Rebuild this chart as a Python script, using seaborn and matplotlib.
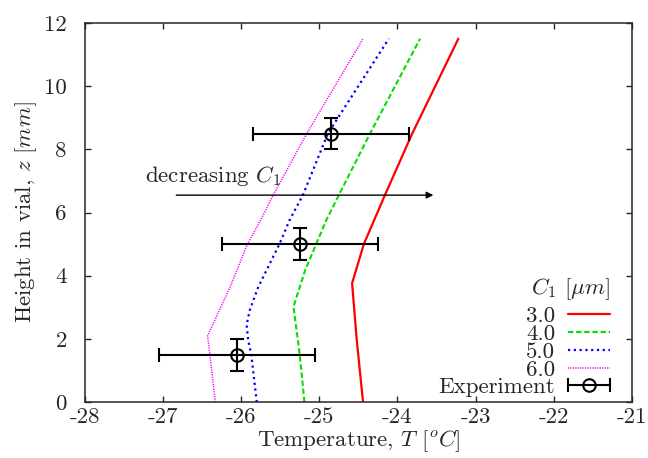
import numpy as np
import pandas as pd
import seaborn as sns
import matplotlib
matplotlib.use("Agg")
import matplotlib.pyplot as plt
from matplotlib.container import ErrorbarContainer
from matplotlib.legend_handler import HandlerErrorbar

# Temperature profiles along the vial height for four values of C1
z_c3 = [0.0, 1.96, 3.76, 5.0, 6.55, 8.5, 11.5]
t_c3 = [-24.44, -24.52, -24.58, -24.43, -24.16, -23.81, -23.22]

z_c4 = [0.0, 1.5, 3.02, 4.18, 5.0, 5.76, 6.55, 8.5, 11.5]
t_c4 = [-25.19, -25.25, -25.33, -25.18, -25.04, -24.91, -24.75, -24.35, -23.71]

z_c5 = [0.0, 1.5, 1.96, 2.44, 2.91, 3.65, 5.0, 5.76, 6.55, 8.5, 11.5]
t_c5 = [-25.80, -25.87, -25.91, -25.93, -25.89, -25.78, -25.51, -25.38, -25.21, -24.89, -24.11]

z_c6 = [0.0, 1.5, 2.1, 3.65, 5.0, 5.76, 6.55, 8.5, 11.5]
t_c6 = [-26.33, -26.40, -26.43, -26.14, -25.92, -25.75, -25.59, -25.16, -24.44]

c1_labels = ["3.0", "4.0", "5.0", "6.0"]

# Measured temperatures with uncertainty
exp_z = [1.5, 5.0, 8.5]
exp_t = [-26.05, -25.25, -24.85]
exp_terr = [1.0, 1.0, 1.0]
exp_zerr = [0.5, 0.5, 0.5]

x_ticks = [-28, -27, -26, -25, -24, -23, -22, -21]
y_ticks = [0, 2, 4, 6, 8, 10, 12]

FS = 16.5

sns.set_style("ticks")
plt.rcParams.update({
    "font.family": "cmr10",
    "mathtext.fontset": "cm",
    "axes.formatter.use_mathtext": True,
    "axes.unicode_minus": False,
    "font.size": FS,
    "axes.linewidth": 1.1,
    "xtick.direction": "in",
    "ytick.direction": "in",
    "xtick.top": True,
    "ytick.right": True,
    "xtick.major.size": 4.0,
    "ytick.major.size": 4.0,
    "xtick.major.width": 1.0,
    "ytick.major.width": 1.0,
    "xtick.major.pad": 4,
    "ytick.major.pad": 13,
})

fig = plt.figure(figsize=(6.48, 4.58), dpi=100)
ax = fig.add_axes([0.131, 0.122, 0.844, 0.828])

series = [
    (t_c3, z_c3, "#ff0000", "-", 1.6),
    (t_c4, z_c4, "#00e000", (0, (2.6, 1.3)), 1.5),
    (t_c5, z_c5, "#0000ff", (0, (1.0, 1.6)), 1.6),
    (t_c6, z_c6, "#ff00ff", (0, (0.8, 0.8)), 1.1),
]
for (t, z, col, ls, lw), lab in zip(series, c1_labels):
    df = pd.DataFrame({"T": t, "z": z})
    sns.lineplot(data=df, x="T", y="z", sort=False, estimator=None,
                 color=col, linestyle=ls, linewidth=lw, label=lab, ax=ax)

# Experimental points: horizontal bars carry the legend entry
ax.errorbar(exp_t, exp_z, xerr=exp_terr, fmt="o", color="black",
            mfc="none", mec="black", ms=9, mew=1.5, elinewidth=1.5,
            capsize=5, capthick=1.5, label="Experiment", zorder=5)
ax.errorbar(exp_t, exp_z, yerr=exp_zerr, fmt="none", ecolor="black",
            elinewidth=1.5, capsize=5, capthick=1.5, zorder=5)

ax.annotate("", xy=(-23.54, 6.55), xytext=(-26.83, 6.55),
            arrowprops=dict(arrowstyle="-|>", color="black", lw=1.0,
                            mutation_scale=10, shrinkA=0, shrinkB=0))
ax.text(-27.23, 7.15, "decreasing $C_1$", ha="left", va="center", fontsize=FS)

ax.set_xlim(-28, -21)
ax.set_ylim(0, 12)
ax.set_xticks(x_ticks)
ax.set_xticklabels([str(v) for v in x_ticks])
ax.set_yticks(y_ticks)
ax.set_yticklabels([str(v) for v in y_ticks])
ax.set_xlabel("Temperature, $T$ [$^{o}C$]", labelpad=1)
ax.set_ylabel("Height in vial, $z$ [$mm$]", labelpad=4)

handles, labels = ax.get_legend_handles_labels()
leg = ax.legend(handles, labels, title="$C_1$ [$\\mu m$]", loc="lower right",
                bbox_to_anchor=(0.99, -0.03), frameon=False, markerfirst=False,
                handlelength=1.85, handletextpad=0.55, labelspacing=-0.1,
                borderpad=0.2, alignment="right", fontsize=FS, title_fontsize=FS,
                handler_map={ErrorbarContainer: HandlerErrorbar(xerr_size=0.93)})
# a little more room between the key title and its first entry
leg._legend_box.sep = 3.5

fig.savefig("out.png", dpi=100)
